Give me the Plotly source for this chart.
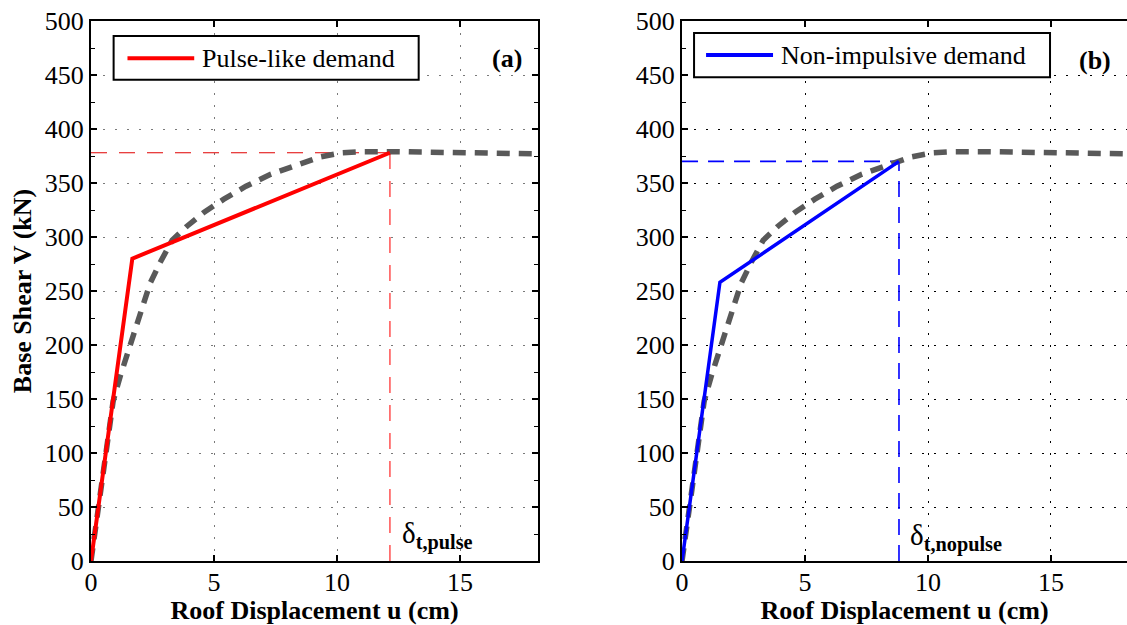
import plotly.graph_objects as go

# ---------------- data ----------------
# capacity (pushover) curve, roof displacement (cm) vs base shear (kN)
u_push = [0, 0.5, 0.9, 1.2, 1.5, 1.8, 2.1, 2.4, 2.8, 3.3, 3.9, 4.6, 5.4, 6.3, 7.3, 8.3, 9.3, 10.2, 11.0, 12.5, 14.5, 16.5, 18.2]
V_push = [0, 85, 148, 172, 194, 216, 238, 257, 276, 297, 310, 323, 335, 347, 358, 366, 374, 378, 379, 379, 378, 377.5, 377]

# idealised bilinear curves
u_pulse = [0, 1.68, 12.15]
V_pulse = [0, 280, 378]
u_nopulse = [0, 1.54, 8.82]
V_nopulse = [0, 258, 370]

# target displacements / forces
target_pulse = (12.15, 378)
target_nopulse = (8.82, 370)

x_ticks = [0, 5, 10, 15]
y_ticks = [0, 50, 100, 150, 200, 250, 300, 350, 400, 450, 500]

legend_labels = ["Pulse-like demand", "Non-impulsive demand"]
panel_labels = ["(a)", "(b)"]
delta_labels = ["t,pulse", "t,nopulse"]

FONT = "'Times New Roman', 'Liberation Serif', 'DejaVu Serif', serif"
GRAY = "#595959"

fig = go.Figure()

# ---------- panel (a) ----------
fig.add_trace(go.Scatter(x=[0, target_pulse[0]], y=[target_pulse[1], target_pulse[1]], mode="lines",
                         line=dict(color="#e00000", width=1, dash="16px,12px"), xaxis="x", yaxis="y", showlegend=False))
fig.add_trace(go.Scatter(x=[target_pulse[0], target_pulse[0]], y=[0, target_pulse[1]], mode="lines",
                         line=dict(color="#ff5c5c", width=1.6, dash="16px,12px"), xaxis="x", yaxis="y", showlegend=False))
fig.add_trace(go.Scatter(x=u_push, y=V_push, mode="lines", line=dict(color=GRAY, width=5.5, dash="13px,9px"),
                         xaxis="x", yaxis="y", showlegend=False))
fig.add_trace(go.Scatter(x=u_pulse, y=V_pulse, mode="lines", line=dict(color="#ff0000", width=4),
                         xaxis="x", yaxis="y", showlegend=False))

# ---------- panel (b) ----------
fig.add_trace(go.Scatter(x=[0, target_nopulse[0]], y=[target_nopulse[1], target_nopulse[1]], mode="lines",
                         line=dict(color="#0000ff", width=1.6, dash="16px,10px"), xaxis="x2", yaxis="y2", showlegend=False))
fig.add_trace(go.Scatter(x=[target_nopulse[0], target_nopulse[0]], y=[0, target_nopulse[1]], mode="lines",
                         line=dict(color="#0000ff", width=1.6, dash="16px,10px"), xaxis="x2", yaxis="y2", showlegend=False))
fig.add_trace(go.Scatter(x=u_push, y=V_push, mode="lines", line=dict(color=GRAY, width=5.5, dash="13px,9px"),
                         xaxis="x2", yaxis="y2", showlegend=False))
fig.add_trace(go.Scatter(x=u_nopulse, y=V_nopulse, mode="lines", line=dict(color="#0000ff", width=3.5),
                         xaxis="x2", yaxis="y2", showlegend=False))


def xaxis(domain, rng, gridcolor, mirror):
    return dict(domain=domain, range=rng, tickvals=x_ticks, ticks="inside", ticklen=6, tickwidth=1.5,
                tickcolor="black", showline=True, linewidth=2, linecolor="black", mirror=mirror,
                showgrid=True, gridcolor=gridcolor, griddash="2px,10px", gridwidth=1.2, zeroline=False,
                ticklabelstandoff=-3,
                tickfont=dict(family=FONT, size=26, color="black"),
                title=dict(text="<b>Roof Displacement u (cm)</b>", font=dict(family=FONT, size=26, color="black"),
                           standoff=0))


def yaxis(anchor, gridcolor, mirror, title):
    d = dict(anchor=anchor, domain=[0, 1], range=[0, 500], tickvals=y_ticks, ticks="inside", ticklen=6,
             tickwidth=1.5, tickcolor="black", showline=True, linewidth=2, linecolor="black", mirror=mirror,
             showgrid=True, gridcolor=gridcolor, griddash="2px,10px", gridwidth=1.2, zeroline=False,
             tickfont=dict(family=FONT, size=26, color="black"),
             minor=dict(dtick=25, ticks="inside", ticklen=4, tickcolor="black", tickwidth=1.2, showgrid=False))
    if title:
        d["title"] = dict(text="<b>Base Shear V (kN)</b>", font=dict(family=FONT, size=26, color="black"), standoff=6)
    return d


fig.update_layout(
    width=1127, height=625,
    margin=dict(l=91, r=0, t=21, b=64),
    paper_bgcolor="white", plot_bgcolor="white",
    font=dict(family=FONT, size=26, color="black"),
    showlegend=False,
    xaxis=xaxis([0, 0.4315], [0, 18.17], "#7a7a7a", "ticks"),
    yaxis=yaxis("x", "#7a7a7a", "ticks", True),
    xaxis2=dict(anchor="y2", **xaxis([0.5705, 1.0], [0, 18.09], "black", "ticks")),
    yaxis2=yaxis("x2", "black", False, False),
)

# ---------- custom legend boxes ----------
legends = [
    dict(xr="x domain", yr="y domain", box=(0.0506, 0.891, 0.733, 0.972), line=(0.0816, 0.2309, 0.931),
         tx=0.2438, color="#ff0000", label=legend_labels[0]),
    dict(xr="x2 domain", yr="y2 domain", box=(0.027, 0.896, 0.827, 0.978), line=(0.054, 0.2045, 0.937),
         tx=0.218, color="#0000ff", label=legend_labels[1]),
]
for lg in legends:
    x0, y0, x1, y1 = lg["box"]
    fig.add_shape(type="rect", xref=lg["xr"], yref=lg["yr"], x0=x0, y0=y0, x1=x1, y1=y1,
                  line=dict(color="black", width=2), fillcolor="white", layer="above")
    lx0, lx1, ly = lg["line"]
    fig.add_shape(type="line", xref=lg["xr"], yref=lg["yr"], x0=lx0, x1=lx1, y0=ly, y1=ly,
                  line=dict(color=lg["color"], width=4), layer="above")
    fig.add_annotation(xref=lg["xr"], yref=lg["yr"], x=lg["tx"], y=ly, text=lg["label"], showarrow=False,
                       xanchor="left", yanchor="middle", font=dict(family=FONT, size=26, color="black"))

# panel labels
fig.add_annotation(xref="x", yref="y", x=16.9, y=465, text="<b>" + panel_labels[0] + "</b>", showarrow=False,
                   font=dict(family=FONT, size=26, color="black"))
fig.add_annotation(xref="x2", yref="y2", x=16.8, y=463, text="<b>" + panel_labels[1] + "</b>", showarrow=False,
                   font=dict(family=FONT, size=26, color="black"))

# delta labels
fig.add_annotation(xref="x", yref="y", x=target_pulse[0] + 0.4, y=5,
                   text="δ<sub><b>" + delta_labels[0] + "</b></sub>", showarrow=False, xanchor="left",
                   yanchor="bottom", font=dict(family=FONT, size=29, color="black"))
fig.add_annotation(xref="x2", yref="y2", x=target_nopulse[0] + 0.35, y=3,
                   text="δ<sub><b>" + delta_labels[1] + "</b></sub>", showarrow=False, xanchor="left",
                   yanchor="bottom", font=dict(family=FONT, size=29, color="black"))

fig.write_html("out.html")
